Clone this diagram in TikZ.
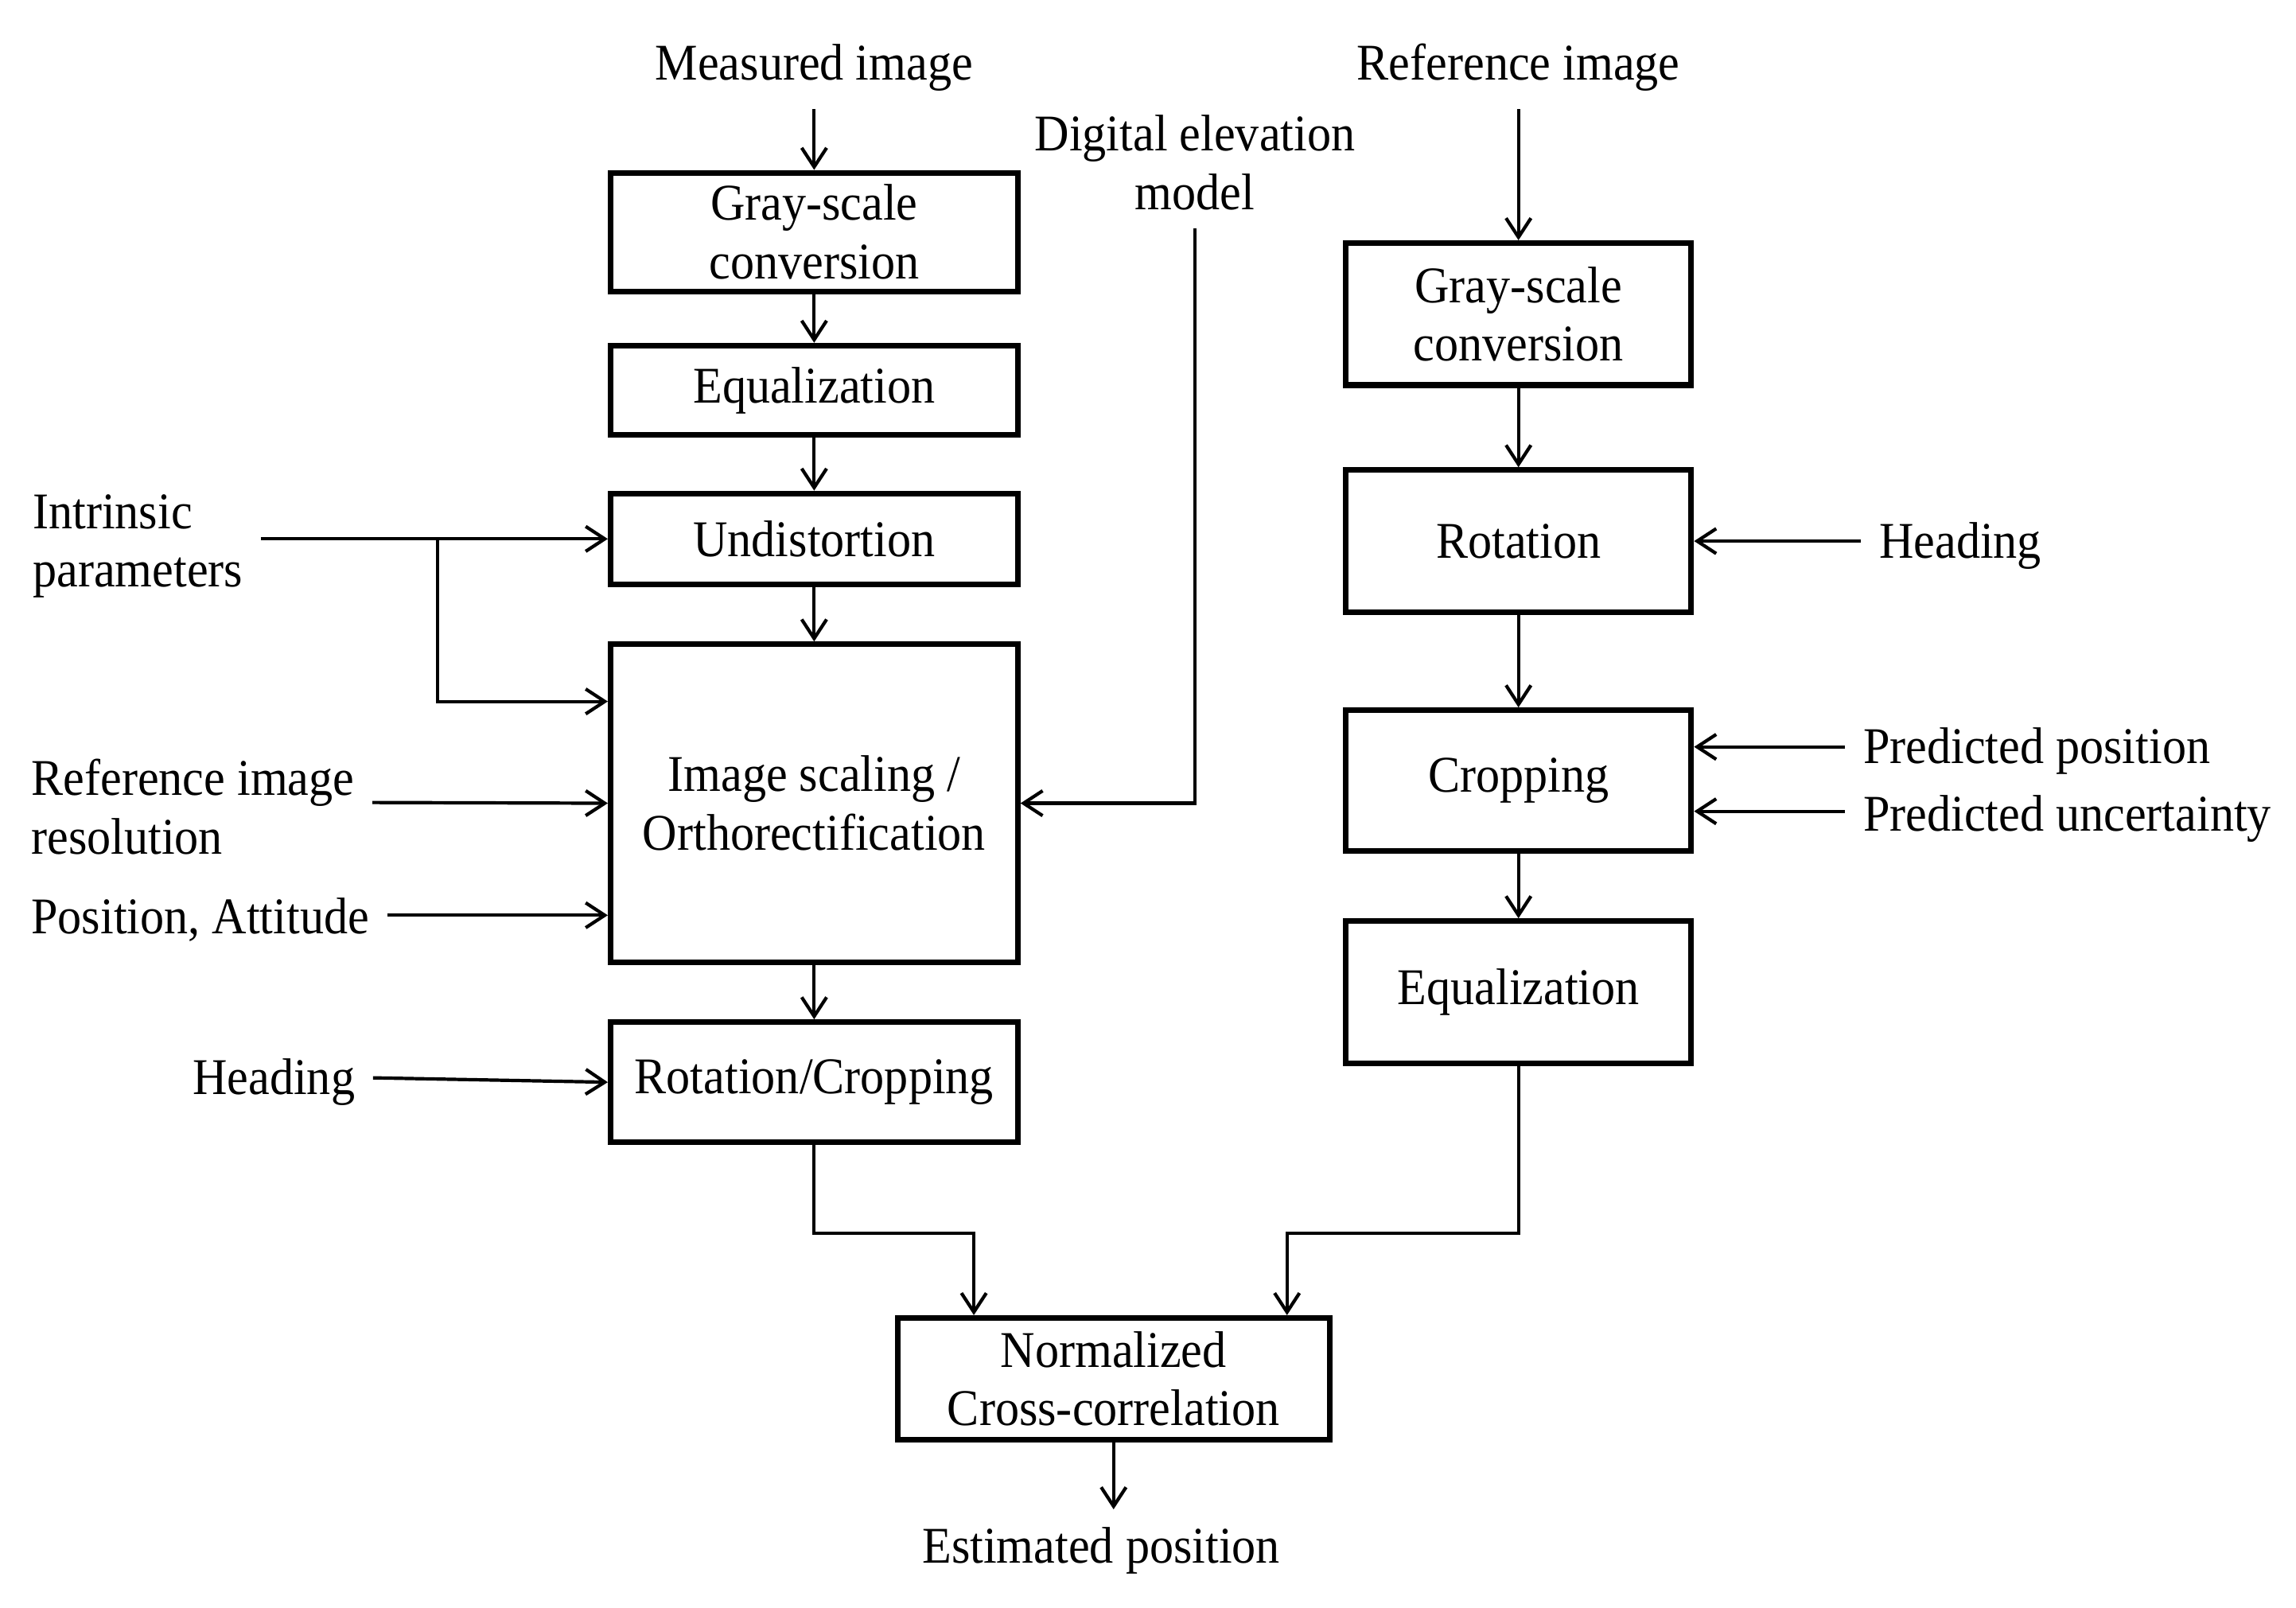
\documentclass[tikz,border=0pt]{standalone}
\usepackage{fontspec}
\setmainfont{Liberation Serif}[FakeStretch=0.93]
\usetikzlibrary{arrows.meta}

\begin{document}
\begin{tikzpicture}[
        every node/.style={font=\fontsize{10}{11.4}\selectfont},
        blk/.style={draw, line width=1.1pt, minimum width=2.78cm, align=center, inner sep=0pt},
        blkr/.style={blk, minimum width=2.36cm},
        arr/.style={-{Straight Barb[length=1.3mm, width=1.7mm]}, line width=0.65pt},
        lbl/.style={align=left}
    ]
                \useasboundingbox (0,0) rectangle (15.68,-10.98);
                \node (meas) at (5.56,-0.46) {Measured image};
                \node (refimg) at (10.37,-0.46) {Reference image};
                \node[align=center] (dem) at (8.16,-1.11) {Digital elevation\\model};
                \node[blk, minimum height=0.81cm] (gray1) at (5.56,-1.585) {Gray-scale\\conversion};
                \node[blk, minimum height=0.61cm] (equal1) at (5.56,-2.665) {Equalization};
                \node[blk, minimum height=0.62cm] (undist) at (5.56,-3.68) {Undistortion};
                \node[blk, minimum height=2.17cm] (ortho) at (5.56,-5.485) {Image scaling /\\Orthorectification};
                \node[blk, minimum height=0.82cm] (rotcrop) at (5.56,-7.39) {Rotation/Cropping};
                \node[blkr, minimum height=0.97cm] (gray2) at (10.37,-2.145) {Gray-scale\\conversion};
                \node[blkr, minimum height=0.97cm] (rot) at (10.37,-3.695) {Rotation};
                \node[blkr, minimum height=0.96cm] (crop) at (10.37,-5.33) {Cropping};
                \node[blkr, minimum height=0.97cm] (equal2) at (10.37,-6.775) {Equalization};
                \node[blk, minimum width=2.95cm, minimum height=0.83cm] (ncc) at (7.605,-9.415) {Normalized\\Cross-correlation};
                \node (est) at (7.52,-10.59) {Estimated position};
                \node[lbl, anchor=west] (intr) at (0.10,-3.73) {Intrinsic\\parameters};
                \node[lbl, anchor=west] (refres) at (0.09,-5.51) {Reference image\\resolution};
                \node[anchor=west] (posatt) at (0.09,-6.28) {Position, Attitude};
                \node (headl) at (1.87,-7.39) {Heading};
                \node[anchor=west] (headr) at (12.71,-3.73) {Heading};
                \node[anchor=west] (predpos) at (12.60,-5.13) {Predicted position};
                \node[anchor=west] (predunc) at (12.60,-5.59) {Predicted uncertainty};
                \coordinate (split) at (2.99,-3.68);
                \draw[arr] (meas) -- (gray1);
                \draw[arr] (gray1) -- (equal1);
                \draw[arr] (equal1) -- (undist);
                \draw[arr] (undist) -- (ortho);
                \draw[arr] (ortho) -- (rotcrop);
                \draw[arr] (intr.east |- undist.west) -- (undist.west);
                \draw[arr] (split) |- (ortho.west |- 0,-4.79);
                \draw[arr] (refres.east |- 0,-5.48) -- (ortho.west);
                \draw[arr] (posatt.east |- 0,-6.25) -- (ortho.west |- 0,-6.25);
                \draw[arr] (headl.east |- 0,-7.36) -- (rotcrop.west);
                \draw[arr] (dem.south) |- (ortho.east);
                \draw[arr] (refimg) -- (gray2);
                \draw[arr] (gray2) -- (rot);
                \draw[arr] (rot) -- (crop);
                \draw[arr] (crop) -- (equal2);
                \draw[arr] (headr.west |- rot.east) -- (rot.east);
                \draw[arr] (predpos.west |- 0,-5.10) -- (crop.east |- 0,-5.10);
                \draw[arr] (predunc.west |- 0,-5.54) -- (crop.east |- 0,-5.54);
                \draw[arr] (rotcrop.south) -- ++(0,-0.6) -| ([xshift=0.54cm]ncc.north west);
                \draw[arr] (equal2.south) -- ++(0,-1.14) -| ([xshift=-0.31cm]ncc.north east);
                \draw[arr] (ncc.south) -- (ncc.south |- est.north);
            \end{tikzpicture}
\end{document}
